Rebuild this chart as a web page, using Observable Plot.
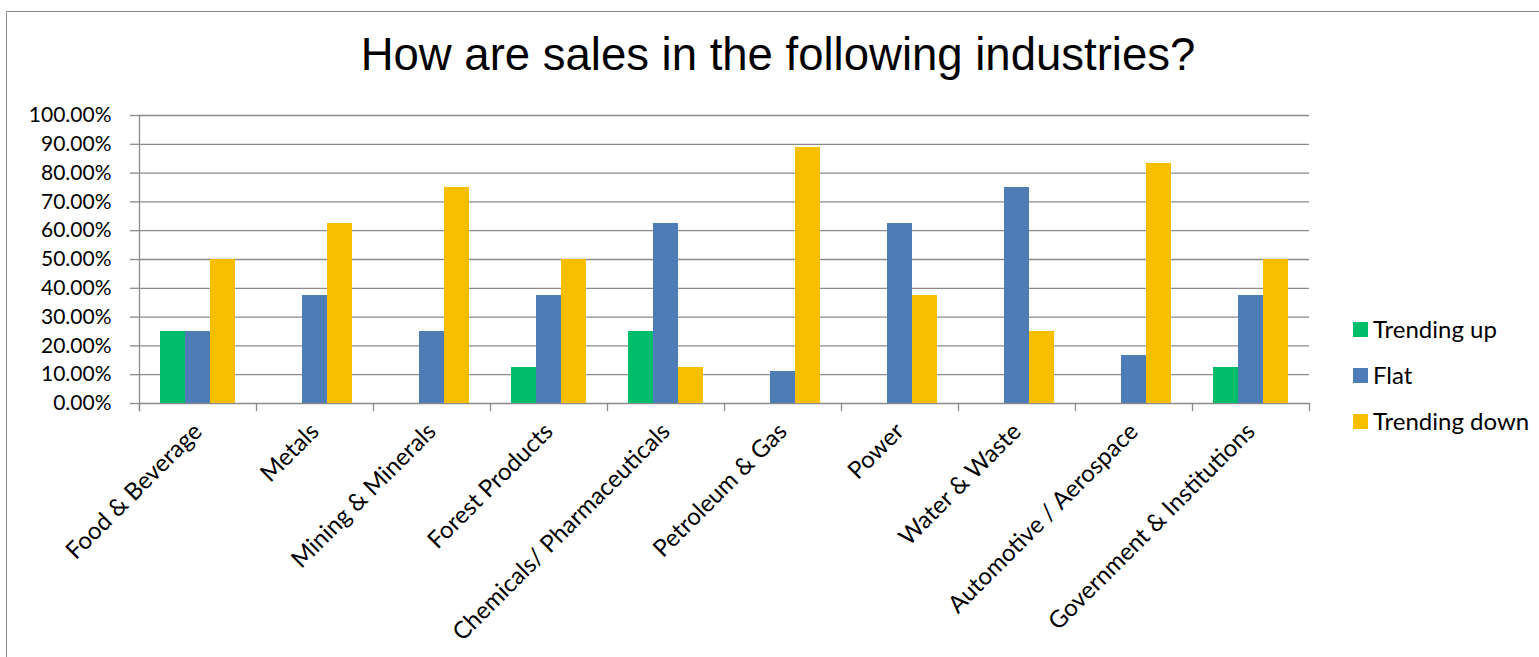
<!DOCTYPE html>
<html>
<head>
<meta charset="utf-8">
<script src="https://cdn.jsdelivr.net/npm/d3@7"></script>
<script src="https://cdn.jsdelivr.net/npm/@observablehq/plot@0.6"></script>
<style>
  html, body { margin: 0; padding: 0; background: #fff; }
  body { width: 1539px; height: 657px; overflow: hidden; position: relative; font-family: Lato, "Noto Sans", sans-serif; }
  #border { position: absolute; left: 6px; top: 11px; width: 1600px; height: 700px; border: 1.5px solid #8c8c8c; box-sizing: border-box; }
  #title { position: absolute; left: 0; width: 1556px; top: 32px; text-align: center; font-family: "Liberation Sans", Arial, sans-serif; font-size: 45.5px; line-height: 1; color: #000; }
  #chart { position: absolute; left: 0; top: 0; }
  .item { position: absolute; left: 1353px; display: flex; align-items: center; font-size: 24px; line-height: 24px; height: 24px; color: #000; white-space: nowrap; }
  .sw { display: inline-block; width: 15px; height: 15px; margin-right: 5px; }
</style>
</head>
<body>
<div id="border"></div>
<div id="title">How are sales in the following industries?</div>
<div id="chart"></div>
<div id="legend"></div>
<script>
// ---- data ----
const categories = [
  "Food & Beverage", "Metals", "Mining & Minerals", "Forest Products",
  "Chemicals/ Pharmaceuticals", "Petroleum & Gas", "Power", "Water & Waste",
  "Automotive / Aerospace", "Government & Institutions"
];
const series = ["Trending up", "Flat", "Trending down"];
const trendingUp   = [25, 0, 0, 12.5, 25, 0, 0, 0, 0, 12.5];
const flat         = [25, 37.5, 25, 37.5, 62.5, 11.11, 62.5, 75, 16.67, 37.5];
const trendingDown = [50, 62.5, 75, 50, 12.5, 88.89, 37.5, 25, 83.33, 50];
const yTicks = [0, 10, 20, 30, 40, 50, 60, 70, 80, 90, 100];
const colors = ["#00BD6C", "#4E7CB6", "#F8BE00"];

const seriesValues = [trendingUp, flat, trendingDown];
const rows = [];
categories.forEach((c, i) => {
  series.forEach((s, j) => rows.push({category: c, series: s, value: seriesValues[j][i]}));
});

const W = 1539, H = 657;
const mTop = 115, mBottom = 254, mLeft = 137, mRight = 229;
const plotH = H - mTop - mBottom;
const gray = "#8a8a8a";

const chart = Plot.plot({
  width: W,
  height: H,
  marginTop: mTop,
  marginBottom: mBottom,
  marginLeft: mLeft,
  marginRight: mRight,
  style: {fontFamily: "Lato, 'Noto Sans', sans-serif", fontSize: "20px", color: "#000", background: "transparent"},
  fx: {domain: categories, padding: 0, label: null, axis: null},
  x: {domain: series, paddingInner: 0, paddingOuter: 0.755, axis: null},
  y: {domain: [0, 100], label: null},
  color: {domain: series, range: colors},
  marks: [
    Plot.ruleY(yTicks, {stroke: gray, strokeWidth: 1.3, strokeOpacity: 1}),
    Plot.barY(rows, {fx: "category", x: "series", y: "value", fill: "series"}),
    Plot.frame({anchor: "left", facetAnchor: "left", stroke: gray, strokeWidth: 1.3, strokeOpacity: 1, insetBottom: -7}),
    Plot.frame({anchor: "left", stroke: gray, strokeWidth: 1.3, strokeOpacity: 1, insetTop: plotH, insetBottom: -7}),
    Plot.frame({anchor: "right", facetAnchor: "right", stroke: gray, strokeWidth: 1.3, strokeOpacity: 1, insetTop: plotH, insetBottom: -7}),
    Plot.axisY({ticks: yTicks, tickFormat: d => d.toFixed(2) + "%", tickSize: 9, tickPadding: 19, stroke: gray, strokeOpacity: 1, strokeWidth: 1.3, fontSize: 21, fill: "#000", label: null}),
    Plot.axisFx({anchor: "bottom", tickRotate: -45, tickSize: 0, tickPadding: 24, fontSize: 24, fill: "#000", label: null})
  ]
});
document.getElementById("chart").appendChild(chart);

// ---- legend ----
const legend = document.getElementById("legend");
const centers = [329, 375, 421];
series.forEach((s, i) => {
  const item = document.createElement("div");
  item.className = "item";
  item.style.top = (centers[i] - 12) + "px";
  const sw = document.createElement("span");
  sw.className = "sw";
  sw.style.background = colors[i];
  item.appendChild(sw);
  item.appendChild(document.createTextNode(s));
  legend.appendChild(item);
});
</script>
</body>
</html>
